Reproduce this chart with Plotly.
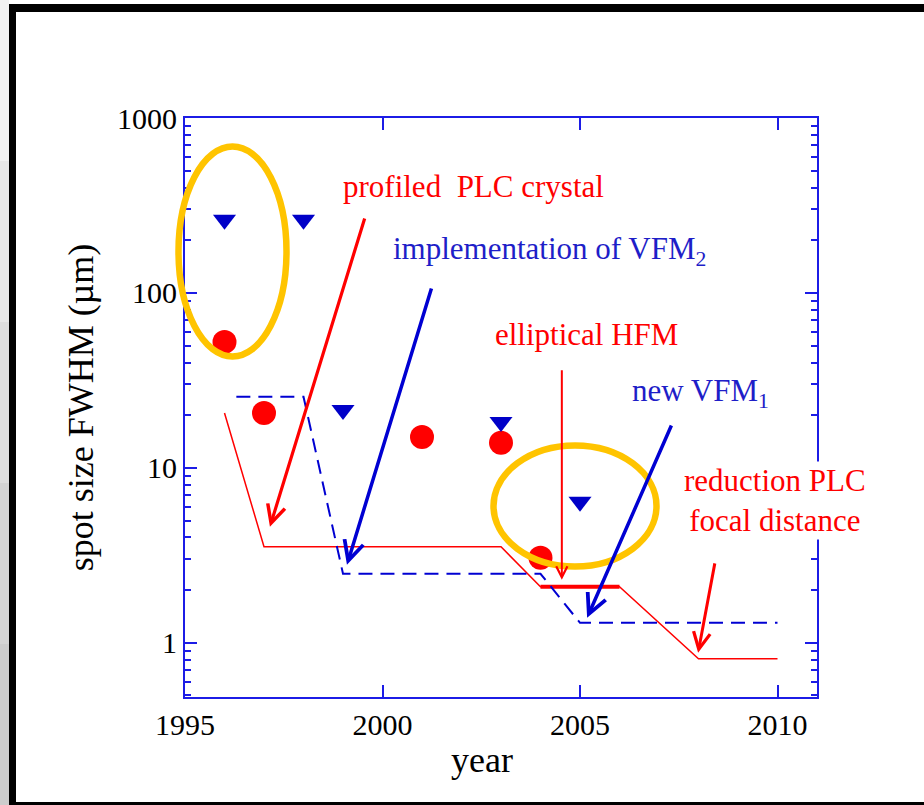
import math
import plotly.graph_objects as go

# ---------------- data ----------------
circle_years = [1996, 1997, 2001, 2003, 2004]
circle_fwhm = [52.5, 20.6, 15.0, 13.9, 3.06]

tri_years = [1996, 1998, 1999, 2003, 2005]
tri_fwhm = [262, 262, 21.4, 18.3, 6.4]

h_trend_years = [1996, 1997, 2003, 2004, 2006, 2008, 2010]
h_trend_fwhm = [20.6, 3.54, 3.54, 2.09, 2.09, 0.81, 0.81]

h_thick_years = [2004, 2006]
h_thick_fwhm = [2.09, 2.09]

v_trend_years = [1996.3, 1998, 1999, 2004, 2005, 2010]
v_trend_fwhm = [25.5, 25.5, 2.48, 2.48, 1.30, 1.30]

y_tickvals = [1, 10, 100, 1000]
y_ticktext = ["1", "10", "100", "1000"]
x_tickvals = [1995, 2000, 2005, 2010]

# arrows: (head_year, head_val, tail_year, tail_val, color, width)
arrows = [
    (1997.15, 4.6, 1999.56, 272, "#ff0000", 3.2),
    (1999.10, 2.79, 2001.25, 108, "#0000d2", 3.5),
    (2004.54, 2.29, 2004.54, 36.8, "#ff0000", 2.0),
    (2005.18, 1.39, 2007.33, 17.8, "#0000d2", 3.5),
    (2007.99, 0.877, 2008.42, 2.9, "#ff0000", 3.0),
]

RED = "#ff0000"
BLUE = "#0000c8"
AXBLUE = "#1c1ce6"
FONT = "Liberation Serif, Times New Roman, serif"

# ---------------- figure ----------------
W, H = 924, 805
L, R, T, B = 185, 107, 118, 108
PW, PH = W - L - R, H - T - B


def px(xpix):
    return (xpix - L) / PW


def py(ypix):
    return (H - B - ypix) / PH


fig = go.Figure()

fig.add_trace(go.Scatter(x=h_trend_years, y=h_trend_fwhm, mode="lines",
                         line=dict(color=RED, width=1.5), hoverinfo="skip"))
fig.add_trace(go.Scatter(x=h_thick_years, y=h_thick_fwhm, mode="lines",
                         line=dict(color=RED, width=4), hoverinfo="skip"))
fig.add_trace(go.Scatter(x=v_trend_years, y=v_trend_fwhm, mode="lines",
                         line=dict(color="#0000d2", width=2, dash="14px,8px"),
                         hoverinfo="skip"))
fig.add_trace(go.Scatter(x=circle_years, y=circle_fwhm, mode="markers",
                         marker=dict(symbol="circle", size=24, color=RED)))
fig.add_trace(go.Scatter(x=tri_years, y=tri_fwhm, mode="markers",
                         marker=dict(symbol="triangle-down", size=20, color=BLUE)))

annotations = []
for hx, hy, tx, ty, col, wd in arrows:
    annotations.append(dict(
        x=hx, y=math.log10(hy), ax=tx, ay=math.log10(ty),
        xref="x", yref="y", axref="x", ayref="y",
        text="", showarrow=True, arrowhead=5, arrowsize=1.1,
        arrowwidth=wd, arrowcolor=col, standoff=0, startstandoff=0))

tfont_r = dict(family=FONT, size=31, color=RED)
tfont_b = dict(family=FONT, size=31, color="#1e1ec8")
labels = [
    ("profiled\u00a0 PLC crystal", 473.5, 186, tfont_r, None),
    ("implementation of VFM<sub>2</sub>", 549, 251, tfont_b, None),
    ("elliptical HFM", 586, 334, tfont_r, None),
    ("new VFM<sub>1</sub>", 700, 393, tfont_b, None),
    ("reduction PLC<br>focal distance", 774.5, 500, tfont_r, "white"),
]
for txt, xx, yy, f, bg in labels:
    a = dict(text=txt, x=px(xx), y=py(yy), xref="paper", yref="paper",
             xanchor="center", yanchor="middle", showarrow=False, font=f)
    if bg:
        a["bgcolor"] = bg
    annotations.append(a)

annotations.append(dict(text="year", x=px(482), y=py(760), xref="paper", yref="paper",
                        xanchor="center", yanchor="middle", showarrow=False,
                        font=dict(family=FONT, size=36, color="black")))

shapes = []
# page frame: grey gradient strip on the left, black border
strip_shades = ["#f2f2f2", "#e8e8e8", "#dedede", "#d4d4d4", "#cccccc"]
band = 805 / len(strip_shades)
for i, shade in enumerate(strip_shades):
    shapes.append(dict(type="rect", xref="paper", yref="paper", x0=px(0), x1=px(9),
                       y0=py(band * (i + 1)), y1=py(band * i),
                       fillcolor=shade, line=dict(width=0), layer="below"))
shapes.append(dict(type="rect", xref="paper", yref="paper", x0=px(9), x1=px(16), y0=py(805), y1=py(4),
                   fillcolor="black", line=dict(width=0), layer="below"))
shapes.append(dict(type="rect", xref="paper", yref="paper", x0=px(9), x1=px(924), y0=py(12), y1=py(4),
                   fillcolor="black", line=dict(width=0), layer="below"))
shapes.append(dict(type="rect", xref="paper", yref="paper", x0=px(9), x1=px(924), y0=py(805), y1=py(802),
                   fillcolor="black", line=dict(width=0), layer="below"))
# highlight ellipses
GOLD = "#ffc400"
shapes.append(dict(type="circle", xref="paper", yref="paper",
                   x0=px(178.5), x1=px(286.5), y0=py(356.5), y1=py(146.5),
                   line=dict(color=GOLD, width=6.5), layer="above"))
shapes.append(dict(type="circle", xref="paper", yref="paper",
                   x0=px(493.5), x1=px(656.5), y0=py(566.5), y1=py(445.5),
                   line=dict(color=GOLD, width=6.5), layer="above"))

minor_y = [m * 10 ** e for e in range(-1, 3) for m in range(2, 10) if 0.5 <= m * 10 ** e <= 1000]

fig.update_layout(
    width=W, height=H,
    margin=dict(l=L, r=R, t=T, b=B, pad=0),
    paper_bgcolor="white", plot_bgcolor="white",
    showlegend=False,
    annotations=annotations,
    shapes=shapes,
    xaxis=dict(range=[1995, 2011], tickvals=x_tickvals, ticks="inside", ticklen=12,
               tickwidth=2, tickcolor=AXBLUE, showline=True, linecolor=AXBLUE,
               linewidth=2, mirror="ticks", showgrid=False, zeroline=False,
               tickfont=dict(family=FONT, size=30, color="black")),
    yaxis=dict(type="log", range=[-0.31, 3.0], tickvals=y_tickvals, ticktext=y_ticktext,
               ticks="inside", ticklen=12, tickwidth=2, tickcolor=AXBLUE,
               showline=True, linecolor=AXBLUE, linewidth=2, mirror="ticks",
               showgrid=False, zeroline=False,
               minor=dict(tickvals=minor_y, ticks="inside", ticklen=6, tickwidth=2,
                          tickcolor=AXBLUE, showgrid=False),
               tickfont=dict(family=FONT, size=30, color="black"),
               title=dict(text="spot size FWHM (\u00b5m)", standoff=12,
                          font=dict(family=FONT, size=36, color="black"))),
)

fig.write_html("out.html")
